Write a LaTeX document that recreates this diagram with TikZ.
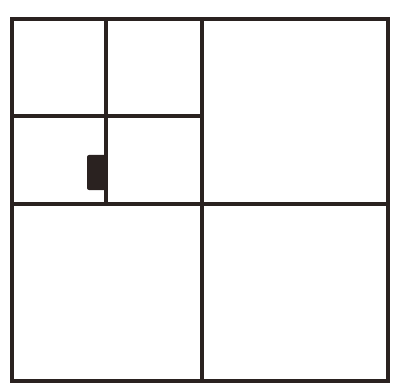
\documentclass[tikz,border=0pt]{standalone}
\begin{document}
\begin{tikzpicture}[x=1pt,y=-1pt,line cap=rect,
  gridline/.style={draw=inkc,line width=4.3pt},
  blob/.style={fill=inkc,rounded corners=2pt}]
\definecolor{inkc}{HTML}{2A2220}
\useasboundingbox (0,0) rectangle (393,390);
\coordinate (tl) at (12,19);
\coordinate (br) at (388,381);
\draw[gridline] (tl) rectangle (br);
\draw[gridline] (202,19) -- (202,381);
\draw[gridline] (12,204) -- (388,204);
\draw[gridline] (106,19) -- (106,204);
\draw[gridline] (12,116) -- (202,116);
\path[blob] (87,155) rectangle (107,190);
\end{tikzpicture}
\end{document}
